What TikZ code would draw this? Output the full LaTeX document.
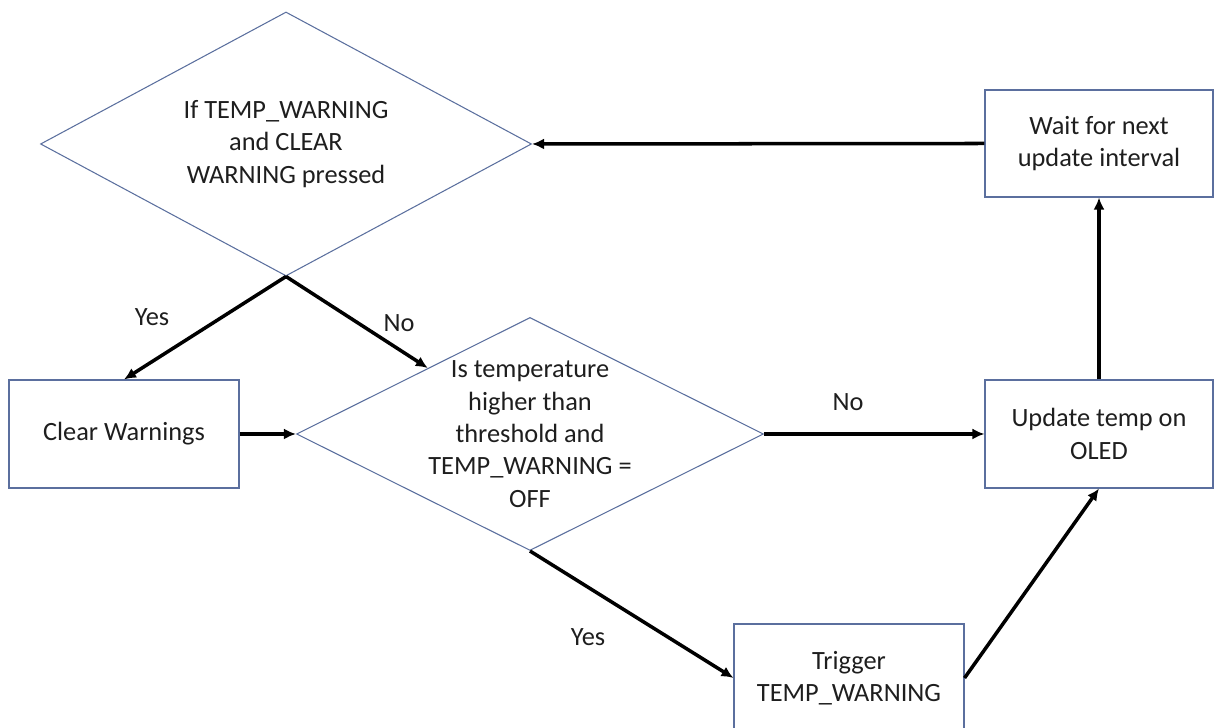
\documentclass[tikz,border=0pt]{standalone}
\usepackage{fontspec}
\setmainfont{Carlito}
\usepackage{xcolor}
\usetikzlibrary{arrows.meta, shapes.geometric}

\definecolor{shapeline}{HTML}{5B6F9E}
\definecolor{inktext}{HTML}{1E1E1E}

\begin{document}
\begin{tikzpicture}[
    every node/.style={font=\fontsize{15}{18.4}\selectfont, text=inktext, align=center}, % plain text everywhere
    box/.style={draw=shapeline, line width=0.6pt, rectangle, minimum width=4.6cm, minimum height=2.16cm, inner sep=0pt},
    decision/.style={draw=shapeline, line width=0.6pt, diamond, inner sep=0pt},
    edge/.style={-{Latex[length=2.4mm, width=2.2mm]}, line width=2pt}
]

% Fix the page to the reference size
\useasboundingbox (0,0) rectangle (24.28,14.56);

% Decisions (text laid over the outline, as in the reference)
\node[decision, minimum width=9.82cm, minimum height=5.28cm,
      label={[align=center]center:If TEMP\_WARNING\\and CLEAR\\WARNING pressed}] (check) at (5.72, 11.68) {};
\node[decision, minimum width=9.34cm, minimum height=4.66cm,
      label={[align=center]center:Is temperature\\higher than\\threshold and\\TEMP\_WARNING =\\OFF}] (tempcheck) at (10.60, 5.88) {};

% Boxes
\node[box] (clear) at (2.48, 5.88) {Clear Warnings};
\node[box, minimum width=4.56cm] (update) at (21.98, 5.88) {Update temp on\\OLED};
\node[box, minimum width=4.56cm, minimum height=2.14cm] (wait) at (21.98, 11.69) {Wait for next\\update interval};
\node[box] (trigger) at (16.98, 1.0) {Trigger\\TEMP\_WARNING};

% Edges
\draw[edge] (wait.west) -- (check.east);
\draw[edge] (check.south) -- (clear.north);
\draw[edge] (check.south) -- (tempcheck);
\draw[edge] (clear) -- (tempcheck);
\draw[edge] (tempcheck) -- (update);
\draw[edge] (tempcheck.south) -- (trigger.west);
\draw[edge] (trigger.east) -- (update.south);
\draw[edge] (update) -- (wait);

% Branch labels
\node (yes1) at (3.04, 8.22) {Yes};
\node (no1) at (7.98, 8.10) {No};
\node (no2) at (16.96, 6.52) {No};
\node (yes2) at (11.76, 1.82) {Yes};

\end{tikzpicture}
\end{document}
